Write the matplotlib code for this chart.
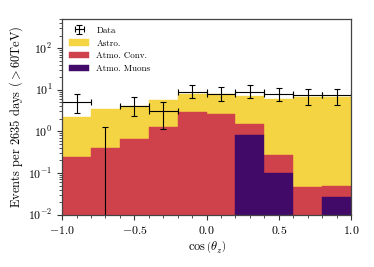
import numpy as np
import matplotlib
matplotlib.use("Agg")
import matplotlib.pyplot as plt

plt.rcParams['font.family'] = 'serif'
plt.rcParams['font.serif'] = ['cmr10']
plt.rcParams['mathtext.fontset'] = 'cm'
plt.rcParams['axes.formatter.use_mathtext'] = True

# binning in cos(theta_z)
bin_edges = np.linspace(-1.0, 1.0, 11)
bin_centers = 0.5 * (bin_edges[1:] + bin_edges[:-1])

# expected events per component (stacked)
muons = [0.0, 0.0, 0.0, 0.0, 0.0, 0.0, 0.81, 0.10, 0.0, 0.026]
conv = [0.24, 0.40, 0.66, 1.27, 2.85, 2.6, 0.71, 0.17, 0.047, 0.024]
astro = [1.93, 3.0, 3.44, 4.33, 5.25, 5.4, 5.58, 5.78, 6.75, 6.75]

# data points with asymmetric errors
data = [5.0, 0.0, 4.0, 3.0, 8.8, 7.8, 8.8, 8.0, 7.3, 7.3]
data_up = [7.7, 1.29, 6.76, 5.2, 12.7, 11.4, 12.7, 11.1, 10.3, 10.3]
data_lo = [2.75, 0.0, 2.33, 1.12, 6.4, 5.3, 6.4, 5.3, 4.35, 4.35]

fig = plt.figure(figsize=(3.74, 2.67), dpi=100)
ax = fig.add_axes([0.166, 0.196, 0.7725, 0.733])

width = bin_edges[1] - bin_edges[0]
muons = np.array(muons)
conv = np.array(conv)
astro = np.array(astro)

ax.bar(bin_centers, astro, width=width, bottom=muons + conv, color='#f4d443',
       edgecolor='#f4d443', linewidth=0.3, label='Astro.')
ax.bar(bin_centers, conv, width=width, bottom=muons, color='#cf414b',
       edgecolor='#cf414b', linewidth=0.3, label='Atmo. Conv.')
ax.bar(bin_centers, muons, width=width, color='#420a68',
       edgecolor='#420a68', linewidth=0.3, label='Atmo. Muons')

data = np.array(data)
yerr = [data - np.array(data_lo), np.array(data_up) - data]
ax.errorbar(bin_centers, data, xerr=width / 2, yerr=yerr, fmt='none',
            ecolor='k', elinewidth=0.8, capsize=2, capthick=0.8, label='Data')

ax.set_yscale('log')
ax.set_ylim(1e-2, 5e2)
ax.set_xlim(-1.0, 1.0)
ax.set_xticks([-1.0, -0.5, 0.0, 0.5, 1.0])
ax.set_xticks(np.arange(-1.0, 1.01, 0.1), minor=True)
ax.tick_params(which='both', direction='out', labelsize=8.5, color='#333333')
ax.tick_params(which='major', length=3.5)
ax.tick_params(which='minor', length=2)
for s in ax.spines.values():
    s.set_color('#444444')
    s.set_linewidth(0.9)

ax.set_xlabel(r'$\cos\left(\theta_z\right)$', fontsize=9, labelpad=2)
ax.set_ylabel(r'Events per 2635 days ($>60$TeV)', fontsize=9, labelpad=2)

handles, labels = ax.get_legend_handles_labels()
order = [3, 0, 1, 2]
ax.legend([handles[i] for i in order], [labels[i] for i in order],
          loc='upper left', frameon=False, fontsize=6.5, handlelength=2.2,
          borderaxespad=0.4, labelspacing=0.5)

fig.savefig('out.png', dpi=100)
